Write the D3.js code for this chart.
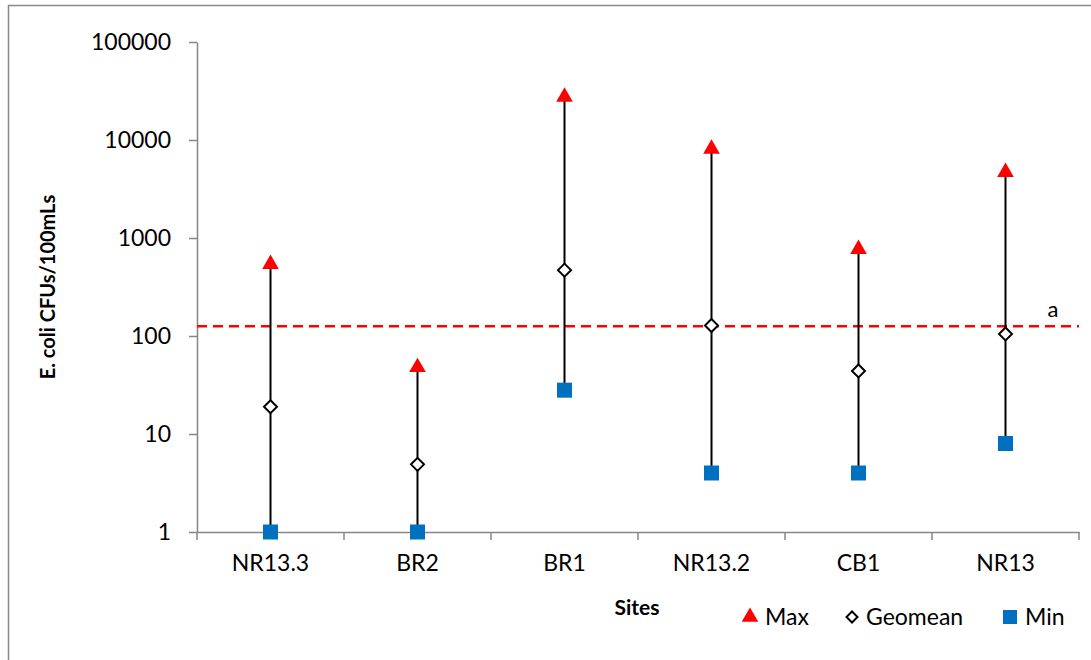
<!DOCTYPE html>
<html>
<head>
<meta charset="utf-8">
<script src="https://cdn.jsdelivr.net/npm/d3@7"></script>
<style>
    body { margin: 0; background: #fff; }
    text { font-family: Lato, "Open Sans", sans-serif; }
</style>
</head>
<body>
<script>
    // data
    const sites = ["NR13.3", "BR2", "BR1", "NR13.2", "CB1", "NR13"];
    const maxVals = [540, 48, 27500, 8100, 770, 4700];
    const geoVals = [19, 4.9, 470, 128, 44, 105];
    const minVals = [1, 1, 28, 4, 4, 8];
    const yTicks = [1, 10, 100, 1000, 10000, 100000];
    const standard = 126;

    const width = 1091;
    const height = 660;
    const svg = d3.select("body").append("svg")
        .attr("width", width)
        .attr("height", height);

    // outer chart frame (cut off on right/bottom)
    svg.append("path")
        .attr("d", `M8.5,${height}V5.5H${width}`)
        .attr("fill", "none")
        .attr("stroke", "#898989")
        .attr("stroke-width", 1.5);

    const x = d3.scaleBand()
        .domain(sites)
        .range([197, 1079]);
    const y = d3.scaleLog()
        .domain([1, 100000])
        .range([532, 42]);

    // y axis
    const yAxis = svg.append("g")
        .attr("transform", "translate(197,0)")
        .call(d3.axisLeft(y).tickValues(yTicks).tickFormat(d3.format("d")).tickSize(8).tickSizeOuter(0).tickPadding(18));
    yAxis.select(".domain").attr("stroke", "#868686").attr("stroke-width", 1.5);
    yAxis.selectAll(".tick line").attr("stroke", "#868686").attr("stroke-width", 1.5);
    yAxis.selectAll("text").attr("font-size", 23).attr("fill", "#000").attr("font-family", "Lato");

    // x axis
    const xAxis = svg.append("g")
        .attr("transform", "translate(0,532)")
        .call(d3.axisBottom(x).tickSize(0).tickSizeOuter(0).tickPadding(23));
    xAxis.select(".domain").attr("stroke", "#868686").attr("stroke-width", 1.5);
    xAxis.selectAll("text").attr("font-size", 23).attr("fill", "#000").attr("font-family", "Lato");
    xAxis.selectAll(".bound")
        .data(sites.map(s => x(s)).concat([x.range()[1]]))
        .join("line")
        .attr("class", "bound")
        .attr("x1", d => d).attr("x2", d => d)
        .attr("y1", 0).attr("y2", 8)
        .attr("stroke", "#868686")
        .attr("stroke-width", 1.5);

    const cx = s => x(s) + x.bandwidth() / 2;

    // standard line
    svg.append("line")
        .attr("x1", 197).attr("x2", 1079)
        .attr("y1", y(standard)).attr("y2", y(standard))
        .attr("stroke", "#ff0000")
        .attr("stroke-width", 2.5)
        .attr("stroke-dasharray", "10,6");
    svg.append("text")
        .attr("x", 1053).attr("y", y(standard) - 9)
        .attr("text-anchor", "middle")
        .attr("font-size", 22)
        .text("a");

    // high-low lines
    svg.append("g").selectAll("line")
        .data(sites)
        .join("line")
        .attr("x1", cx).attr("x2", cx)
        .attr("y1", (d, i) => y(minVals[i]))
        .attr("y2", (d, i) => y(maxVals[i]))
        .attr("stroke", "#000")
        .attr("stroke-width", 2);

    const tri = d3.symbol().type(d3.symbolTriangle).size(120);
    const dia = "M0,-6.5L6.5,0L0,6.5L-6.5,0Z";

    svg.append("g").selectAll("path")
        .data(sites)
        .join("path")
        .attr("transform", (d, i) => `translate(${cx(d)},${y(maxVals[i])})`)
        .attr("d", tri)
        .attr("fill", "#ff0000");

    svg.append("g").selectAll("path")
        .data(sites)
        .join("path")
        .attr("transform", (d, i) => `translate(${cx(d)},${y(geoVals[i])})`)
        .attr("d", dia)
        .attr("fill", "#fff")
        .attr("stroke", "#000")
        .attr("stroke-width", 2);

    svg.append("g").selectAll("rect")
        .data(sites)
        .join("rect")
        .attr("x", d => cx(d) - 7.5)
        .attr("y", (d, i) => y(minVals[i]) - 7.5)
        .attr("width", 15).attr("height", 15)
        .attr("fill", "#0070c0");

    // axis titles
    svg.append("text")
        .attr("transform", "translate(55,287) rotate(-90)")
        .attr("text-anchor", "middle")
        .attr("font-size", 20)
        .attr("font-weight", "bold")
        .text("E. coli CFUs/100mLs");
    svg.append("text")
        .attr("x", 637).attr("y", 615)
        .attr("text-anchor", "middle")
        .attr("font-size", 21)
        .attr("font-weight", "bold")
        .text("Sites");

    // legend
    const legendY = 617;
    const legend = svg.append("g");
    legend.append("path")
        .attr("transform", `translate(750,${legendY})`)
        .attr("d", tri)
        .attr("fill", "#ff0000");
    legend.append("text").attr("x", 765).attr("y", legendY + 8).attr("font-size", 23).text("Max");
    legend.append("path")
        .attr("transform", `translate(852,${legendY})`)
        .attr("d", "M0,-5.5L5.5,0L0,5.5L-5.5,0Z")
        .attr("fill", "#fff").attr("stroke", "#000").attr("stroke-width", 2);
    legend.append("text").attr("x", 866).attr("y", legendY + 8).attr("font-size", 23).text("Geomean");
    legend.append("rect")
        .attr("x", 1003).attr("y", legendY - 7)
        .attr("width", 14).attr("height", 14)
        .attr("fill", "#0070c0");
    legend.append("text").attr("x", 1025).attr("y", legendY + 8).attr("font-size", 23).text("Min");
</script>
</body>
</html>
